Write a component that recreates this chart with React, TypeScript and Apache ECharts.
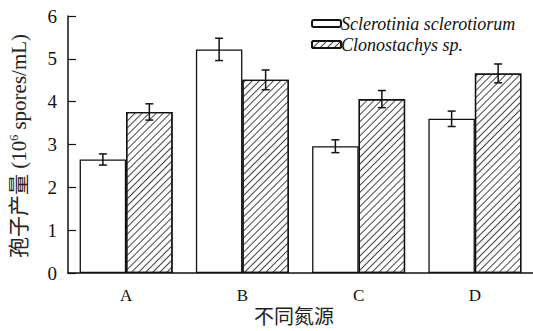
import React, { useEffect, useRef } from "react";
import * as echarts from "echarts";

const categories = ["A", "B", "C", "D"];
const seriesNames = ["Sclerotinia sclerotiorum", "Clonostachys sp."];
const scleroValues = [2.65, 5.22, 2.96, 3.6];
const scleroErrors = [0.13, 0.26, 0.15, 0.18];
const clonoValues = [3.76, 4.51, 4.06, 4.66];
const clonoErrors = [0.19, 0.23, 0.2, 0.22];
const yTicks = [0, 1, 2, 3, 4, 5, 6];

const SERIF = "Liberation Serif";
const CJK = "Liberation Serif, Noto Sans CJK SC";

const hatch = {
  symbol: "rect",
  symbolSize: 1,
  dashArrayX: [1, 0],
  dashArrayY: [0.8, 3.6],
  rotation: -Math.PI / 4,
  color: "#444",
  backgroundColor: "#fff",
};

// Error bars centred on each bar of a grouped pair (offset = ±0.2 of the band)
function errorSeries(values: number[], errors: number[], side: number) {
  return {
    type: "custom",
    silent: true,
    z: 10,
    data: values.map((v, i) => [i, v, errors[i]]),
    renderItem: (_params: any, api: any) => {
      const i = api.value(0);
      const v = api.value(1);
      const e = api.value(2);
      const band = api.size([1, 0])[0];
      const top = api.coord([i, v + e]);
      const bot = api.coord([i, v - e]);
      const x = top[0] + side * band * 0.2;
      const cap = 4;
      const style = { stroke: "#111", lineWidth: 1.5 };
      return {
        type: "group",
        children: [
          { type: "line", shape: { x1: x, y1: top[1], x2: x, y2: bot[1] }, style },
          { type: "line", shape: { x1: x - cap, y1: top[1], x2: x + cap, y2: top[1] }, style },
          { type: "line", shape: { x1: x - cap, y1: bot[1], x2: x + cap, y2: bot[1] }, style },
        ],
      };
    },
  };
}

export default function App() {
  const ref = useRef<HTMLDivElement>(null);

  useEffect(() => {
    if (!ref.current) return;
    const chart = echarts.init(ref.current, null, { renderer: "svg" });
    chart.setOption({
      animation: false,
      backgroundColor: "#fff",
      grid: { left: 68, top: 16, width: 467, height: 257 },
      legend: {
        left: 306,
        top: 9,
        orient: "vertical",
        itemWidth: 29,
        itemHeight: 7,
        itemGap: 2,
        data: seriesNames,
        textStyle: {
          fontFamily: SERIF,
          fontStyle: "italic",
          fontSize: 18,
          lineHeight: 19,
          color: "#111",
          padding: [0, 0, 0, -5],
        },
      },
      xAxis: {
        type: "category",
        data: categories,
        axisLine: { lineStyle: { color: "#111", width: 1.5 } },
        axisTick: { show: false },
        axisLabel: { fontFamily: SERIF, fontSize: 17, color: "#111", margin: 14 },
        splitLine: { show: false },
      },
      yAxis: {
        type: "value",
        min: yTicks[0],
        max: yTicks[yTicks.length - 1],
        interval: 1,
        axisLine: { show: true, lineStyle: { color: "#111", width: 1.5 } },
        axisTick: { show: true, inside: true, length: 8, lineStyle: { color: "#111", width: 1.2 } },
        axisLabel: { fontFamily: SERIF, fontSize: 19, color: "#111", margin: 11 },
        splitLine: { show: false },
      },
      graphic: [
        {
          type: "text",
          x: 19,
          y: 146,
          rotation: Math.PI / 2,
          style: {
            text: "孢子产量 (10{sup|6} spores/mL)",
            fontFamily: CJK,
            fontSize: 21,
            fill: "#222",
            align: "center",
            verticalAlign: "middle",
            rich: {
              sup: { fontSize: 12, fontFamily: SERIF, verticalAlign: "top", padding: [0, 0, 10, 0] },
            },
          },
        },
        {
          type: "text",
          x: 294,
          y: 317,
          style: {
            text: "不同氮源",
            fontFamily: CJK,
            fontSize: 20,
            fill: "#222",
            align: "center",
            verticalAlign: "middle",
          },
        },
      ],
      series: [
        {
          name: seriesNames[0],
          type: "bar",
          data: scleroValues,
          barGap: "0%",
          barCategoryGap: "20%",
          itemStyle: { color: "#fff", borderColor: "#111", borderWidth: 1.3 },
        },
        {
          name: seriesNames[1],
          type: "bar",
          data: clonoValues,
          barGap: "0%",
          barCategoryGap: "20%",
          itemStyle: { color: "#fff", borderColor: "#111", borderWidth: 1.3, decal: hatch },
        },
        errorSeries(scleroValues, scleroErrors, -1),
        errorSeries(clonoValues, clonoErrors, 1),
      ],
    });
    return () => chart.dispose();
  }, []);

  return (
    <div
      ref={ref}
      style={{ position: "fixed", left: 0, top: 0, width: 533, height: 331 }}
    />
  );
}
